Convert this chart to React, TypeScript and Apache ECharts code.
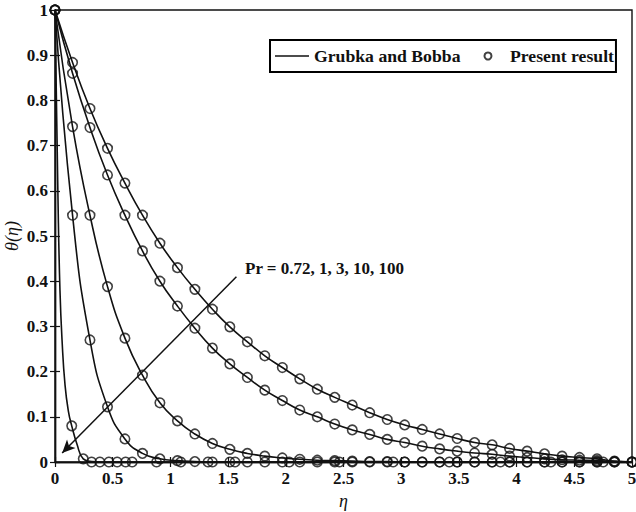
import React, { useEffect, useRef } from "react";
import * as echarts from "echarts";

// Similarity variable η at which the profiles are sampled (Pr = 0.72, 1, 3, 10)
const etaGrid = [
  0, 0.152, 0.303, 0.455, 0.606, 0.758, 0.909, 1.061, 1.212, 1.364, 1.515, 1.667,
  1.818, 1.97, 2.121, 2.273, 2.424, 2.576, 2.727, 2.879, 3.03, 3.182, 3.333, 3.485,
  3.636, 3.788, 3.939, 4.091, 4.242, 4.394, 4.545, 4.697, 4.848, 5.0,
];

// Temperature profiles θ(η)
const thetaPr072 = [
  1, 0.884, 0.782, 0.694, 0.617, 0.546, 0.484, 0.43, 0.382, 0.338, 0.299, 0.266,
  0.235, 0.209, 0.184, 0.161, 0.143, 0.126, 0.109, 0.094, 0.082, 0.072, 0.062, 0.052,
  0.043, 0.038, 0.03, 0.024, 0.018, 0.013, 0.01, 0.007, 0.002, 0,
];
const thetaPr1 = [
  1, 0.86, 0.74, 0.635, 0.546, 0.467, 0.4, 0.345, 0.296, 0.252, 0.217, 0.187,
  0.159, 0.136, 0.115, 0.1, 0.084, 0.071, 0.061, 0.05, 0.043, 0.035, 0.029, 0.024,
  0.02, 0.017, 0.013, 0.01, 0.007, 0.005, 0.004, 0.003, 0.001, 0,
];
const thetaPr3 = [
  1, 0.742, 0.546, 0.388, 0.274, 0.192, 0.131, 0.091, 0.062, 0.041, 0.028, 0.019,
  0.013, 0.009, 0.006, 0.004, 0.003, 0.002, 0.001, 0.001, 0, 0, 0, 0,
  0, 0, 0, 0, 0, 0, 0, 0, 0, 0,
];
const thetaPr10 = [
  1, 0.546, 0.27, 0.122, 0.051, 0.019, 0.007, 0.003, 0.001, 0, 0, 0,
  0, 0, 0, 0, 0, 0, 0, 0, 0, 0, 0, 0,
  0, 0, 0, 0, 0, 0, 0, 0, 0, 0,
];

// Pr = 100: thin boundary layer, traced more finely near the wall
const etaPr100Line = [0, 0.026, 0.043, 0.061, 0.087, 0.117, 0.145, 0.19, 0.245, 0.32, 0.4, 5];
const thetaPr100Line = [1, 0.58, 0.38, 0.27, 0.17, 0.111, 0.08, 0.04, 0.007, 0.001, 0, 0];
const etaPr100Marks = [
  0, 0.145, 0.245, 0.317, 0.389, 0.467, 0.539, 0.612, 0.669, 0.88, 1.09, 1.326,
  1.56, 2.03, 2.465, 2.93, 3.417, 3.86, 4.297, 4.75,
];
const thetaPr100Marks = [1, 0.08, 0.007, 0, 0, 0, 0, 0, 0, 0, 0, 0, 0, 0, 0, 0, 0, 0, 0, 0];

// Annotation arrow (η, θ) and its caption
const arrowFrom = [1.572, 0.41];
const arrowTo = [0.062, 0.02];
const arrowCaption = "Pr = 0.72, 1, 3, 10, 100";

const lineName = "Grubka and Bobba";
const markName = "Present result";

const INK = "#111";
const SERIF = '"Liberation Serif", "Times New Roman", serif';

const zip = (xs: number[], ys: number[]) => xs.map((x, i) => [x, ys[i]]);

function buildOption() {
  const gridProfiles = [thetaPr072, thetaPr1, thetaPr3, thetaPr10];
  const series: any[] = [];

  const lineSeries = (data: number[][]) => ({
    type: "line",
    name: lineName,
    data,
    symbol: "none",
    smooth: 0.5,
    lineStyle: { color: INK, width: 1.6 },
    itemStyle: { color: INK },
    z: 2,
  });
  const markSeries = (data: number[][]) => ({
    type: "scatter",
    name: markName,
    data,
    symbol: "circle",
    symbolSize: 9.5,
    itemStyle: { color: "rgba(0,0,0,0)", borderColor: INK, borderWidth: 1.6 },
    z: 3,
  });

  gridProfiles.forEach((theta) => {
    series.push(lineSeries(zip(etaGrid, theta)));
  });
  series.push(lineSeries(zip(etaPr100Line, thetaPr100Line)));
  gridProfiles.forEach((theta) => {
    series.push(markSeries(zip(etaGrid, theta)));
  });
  series.push(markSeries(zip(etaPr100Marks, thetaPr100Marks)));

  series[0].markLine = {
    silent: true,
    symbol: ["none", "arrow"],
    symbolSize: [9, 13],
    label: { show: false },
    lineStyle: { color: INK, width: 1.5, type: "solid" },
    emphasis: { disabled: true },
    data: [[{ coord: arrowFrom }, { coord: arrowTo }]],
  };

  const tickLabel = {
    fontFamily: SERIF,
    fontWeight: "bold",
    fontSize: 17,
    color: INK,
  };
  const tick = { inside: true, length: 5, lineStyle: { color: INK, width: 1.2 } };

  return {
    animation: false,
    backgroundColor: "#fff",
    grid: {
      left: 55,
      right: 4,
      top: 10,
      bottom: 50,
      outerBoundsMode: "none",
      show: true,
      borderColor: INK,
      borderWidth: 1.4,
      backgroundColor: "transparent",
    },
    legend: {
      data: [
        { name: lineName, icon: "path://M0,0L34,0L34,1.6L0,1.6Z" },
        { name: markName, icon: "circle" },
      ],
      left: 270,
      top: 40,
      orient: "horizontal",
      padding: [7, 2, 7, 5],
      itemGap: 23,
      itemWidth: 34,
      itemHeight: 7,
      borderColor: "#000",
      borderWidth: 2,
      backgroundColor: "#fff",
      textStyle: { fontFamily: SERIF, fontWeight: "bold", fontSize: 17.7, color: INK },
    },
    xAxis: [
      {
        type: "value",
        min: 0,
        max: 5,
        interval: 0.5,
        name: "η",
        nameLocation: "middle",
        nameGap: 30,
        nameMoveOverlap: false,
        nameTextStyle: { fontFamily: SERIF, fontStyle: "italic", fontSize: 18, color: INK },
        axisLine: { show: true, lineStyle: { color: INK, width: 1.4 } },
        axisTick: tick,
        axisLabel: { ...tickLabel, margin: 8 },
        splitLine: { show: false },
      },
      {
        type: "value",
        position: "top",
        min: 0,
        max: 5,
        interval: 0.5,
        axisLine: { show: true, lineStyle: { color: INK, width: 1.4 } },
        axisTick: tick,
        axisLabel: { show: false },
        splitLine: { show: false },
      },
    ],
    yAxis: [
      {
        type: "value",
        min: 0,
        max: 1,
        interval: 0.1,
        name: "θ(η)",
        nameLocation: "middle",
        nameGap: 34,
        nameMoveOverlap: false,
        nameTextStyle: { fontFamily: SERIF, fontStyle: "italic", fontSize: 18, color: INK },
        axisLine: { show: true, lineStyle: { color: INK, width: 1.4 } },
        axisTick: tick,
        axisLabel: { ...tickLabel, margin: 7 },
        splitLine: { show: false },
      },
      {
        type: "value",
        position: "right",
        min: 0,
        max: 1,
        interval: 0.1,
        axisLine: { show: true, lineStyle: { color: INK, width: 1.4 } },
        axisTick: tick,
        axisLabel: { show: false },
        splitLine: { show: false },
      },
    ],
    graphic: [
      {
        type: "text",
        left: 245,
        top: 260,
        silent: true,
        style: {
          text: arrowCaption,
          fontFamily: SERIF,
          fontWeight: "bold",
          fontSize: 17,
          fill: INK,
        },
      },
    ],
    series,
  };
}

export default function App() {
  const ref = useRef<HTMLDivElement>(null);

  useEffect(() => {
    if (!ref.current) return;
    const chart = echarts.init(ref.current, undefined, { renderer: "svg" });
    chart.setOption(buildOption() as any);
    return () => chart.dispose();
  }, []);

  return (
    <div
      ref={ref}
      style={{ position: "fixed", left: 0, top: 0, width: 636, height: 512, background: "#fff" }}
    />
  );
}
